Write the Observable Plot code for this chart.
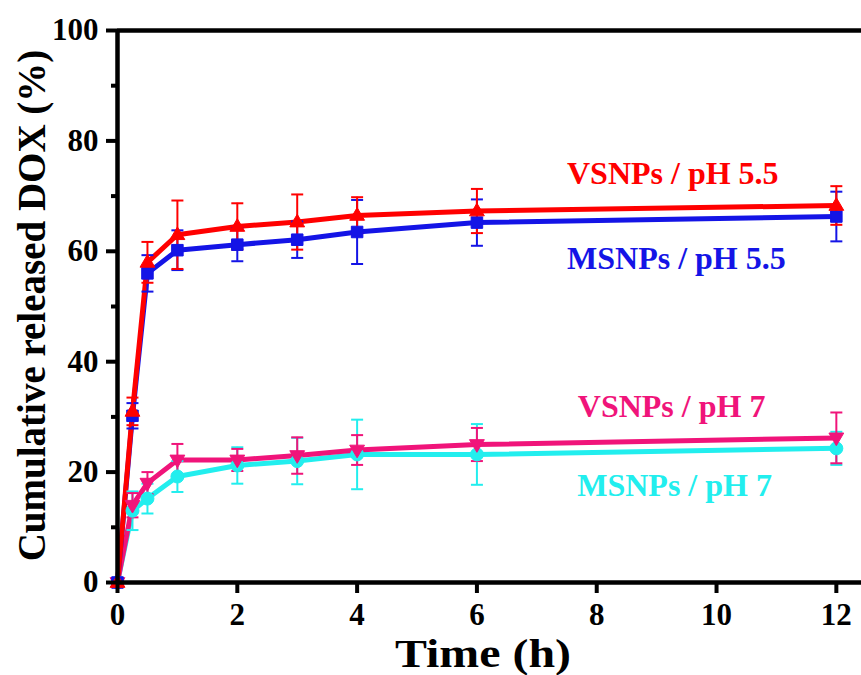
<!DOCTYPE html>
<html>
<head>
<meta charset="utf-8">
<script src="https://cdn.jsdelivr.net/npm/d3@7"></script>
<script src="https://cdn.jsdelivr.net/npm/@observablehq/plot@0.6"></script>
<style>
  html, body { margin: 0; padding: 0; background: #fff; }
  #chart { width: 861px; height: 675px; overflow: hidden; }
</style>
</head>
<body>
<div id="chart"></div>
<script>
// ---- data ----
const times      = [0, 0.25, 0.5, 1, 2, 3, 4, 6, 12];
const vsnps55    = [0, 31.0, 58.0, 63.0, 64.5, 65.3, 66.5, 67.3, 68.3];
const vsnps55Err = [0, 2.5, 3.7, 6.2, 4.2, 5.0, 3.3, 4.0, 3.5];
const msnps55    = [0, 30.2, 56.0, 60.2, 61.2, 62.1, 63.5, 65.2, 66.3];
const msnps55Err = [0, 2.3, 3.3, 3.6, 3.0, 3.3, 5.8, 4.2, 4.5];
const vsnps7     = [0, 14.0, 18.0, 22.2, 22.2, 23.0, 24.0, 25.0, 26.2];
const vsnps7Err  = [0, 2.2, 2.0, 2.9, 2.0, 3.3, 2.7, 3.0, 4.6];
const msnps7     = [0, 13.0, 15.2, 19.2, 21.2, 22.0, 23.2, 23.2, 24.3];
const msnps7Err  = [0, 3.5, 2.7, 2.8, 3.3, 4.2, 6.3, 5.5, 3.0];
const seriesNames = ["VSNPs / pH 5.5", "MSNPs / pH 5.5", "VSNPs / pH 7", "MSNPs / pH 7"];
const xTicks = [0, 2, 4, 6, 8, 10, 12];
const yTicks = [0, 20, 40, 60, 80, 100];
const yMinorTicks = [10, 30, 50, 70, 90];
const xTitle = "Time (h)";
const yTitle = "Cumulative released DOX (%)";

const FONT = "'Liberation Serif', 'Times New Roman', serif";

// ---- symbols ----
const triUp = { draw(ctx, size) { const r = Math.sqrt(size / Math.PI) * 1.2;
  ctx.moveTo(0, -r); ctx.lineTo(r * 0.95, r * 0.62); ctx.lineTo(-r * 0.95, r * 0.62); ctx.closePath(); } };
const triDown = { draw(ctx, size) { const r = Math.sqrt(size / Math.PI) * 1.2;
  ctx.moveTo(0, r); ctx.lineTo(r * 0.95, -r * 0.62); ctx.lineTo(-r * 0.95, -r * 0.62); ctx.closePath(); } };
const cap = { draw(ctx, size) { const r = Math.sqrt(size / Math.PI);
  ctx.moveTo(-r, 0); ctx.lineTo(r, 0); } };

const styles = [
  { color: "#ff0000", symbol: triUp,   label: [9.27, 74.1] },
  { color: "#1414e6", symbol: "square", label: [9.33, 58.7] },
  { color: "#f0147a", symbol: triDown, label: [9.25, 31.8] },
  { color: "#22eeee", symbol: "circle", label: [9.30, 17.6] }
];
const valueArrays = [vsnps55, msnps55, vsnps7, msnps7];
const errArrays = [vsnps55Err, msnps55Err, vsnps7Err, msnps7Err];

const rows = [];
seriesNames.forEach((name, s) => {
  times.forEach((t, i) => {
    rows.push({ series: name, s, t, v: valueArrays[s][i], e: errArrays[s][i],
      lo: valueArrays[s][i] - errArrays[s][i], hi: valueArrays[s][i] + errArrays[s][i] });
  });
});
const drawOrder = [3, 2, 1, 0];

const marks = [];
// lines
for (const s of drawOrder) {
  const d = rows.filter(r => r.s === s);
  marks.push(Plot.line(d, { x: "t", y: "v", stroke: styles[s].color, strokeWidth: 5, strokeLinejoin: "round" }));
}
// error bars + markers
for (const s of drawOrder) {
  const d = rows.filter(r => r.s === s && r.e > 0);
  const c = styles[s].color;
  marks.push(Plot.ruleX(d, { x: "t", y1: "lo", y2: "hi", stroke: c, strokeWidth: 2 }));
  marks.push(Plot.dot(d, { x: "t", y: "hi", symbol: cap, r: 6, stroke: c, strokeWidth: 2, fill: "none" }));
  marks.push(Plot.dot(d, { x: "t", y: "lo", symbol: cap, r: 6, stroke: c, strokeWidth: 2, fill: "none" }));
}
for (const s of drawOrder) {
  const d = rows.filter(r => r.s === s);
  const c = styles[s].color;
  marks.push(Plot.dot(d, { x: "t", y: "v", symbol: styles[s].symbol, r: 6.5, fill: c, stroke: c, strokeWidth: 1 }));
}
// series labels
seriesNames.forEach((name, s) => {
  marks.push(Plot.text([name], { x: () => styles[s].label[0], y: () => styles[s].label[1], text: d => d,
    fill: styles[s].color, fontSize: 32, fontWeight: "bold", fontFamily: FONT, textAnchor: "middle", lineAnchor: "middle" }));
});

// frame lines
marks.push(Plot.ruleX([0], { stroke: "black", strokeWidth: 4.5 }));
marks.push(Plot.ruleY([0, 100], { stroke: "black", strokeWidth: 4.5 }));
// axes
marks.push(Plot.axisX({ ticks: xTicks, tickSize: 11, tickPadding: 9, strokeWidth: 4, fontSize: 31, fontWeight: "bold", fontFamily: FONT, label: null, tickFormat: d => String(d) }));
marks.push(Plot.axisY({ ticks: yTicks, tickSize: 11, tickPadding: 8, strokeWidth: 4, fontSize: 31, fontWeight: "bold", fontFamily: FONT, label: null, tickFormat: d => String(d) }));
marks.push(Plot.axisY({ ticks: yMinorTicks, tickSize: 6, strokeWidth: 4, text: null, label: null }));
// titles
marks.push(Plot.text([xTitle], { frameAnchor: "bottom", dx: -6.5, dy: 71, text: d => d, fontSize: 41, fontWeight: "bold", fontFamily: FONT, fill: "black", textAnchor: "middle", lineAnchor: "middle" }));
marks.push(Plot.text([yTitle], { frameAnchor: "left", rotate: -90, dx: -85, dy: -1, text: d => d, fontSize: 39, fontWeight: "bold", fontFamily: FONT, fill: "black", textAnchor: "middle", lineAnchor: "middle" }));

const chart = Plot.plot({
  width: 861,
  height: 675,
  marginLeft: 117,
  marginRight: 0,
  marginTop: 30,
  marginBottom: 93,
  x: { domain: [0, 12.42] },
  y: { domain: [0, 100] },
  style: { fontFamily: FONT, fontWeight: "bold", color: "black", background: "white", overflow: "visible" },
  marks
});
document.getElementById("chart").appendChild(chart);
chart.querySelectorAll("text").forEach(t => {
  if (t.textContent === xTitle) { t.setAttribute("textLength", 176); t.setAttribute("lengthAdjust", "spacingAndGlyphs"); }
});
</script>
</body>
</html>
